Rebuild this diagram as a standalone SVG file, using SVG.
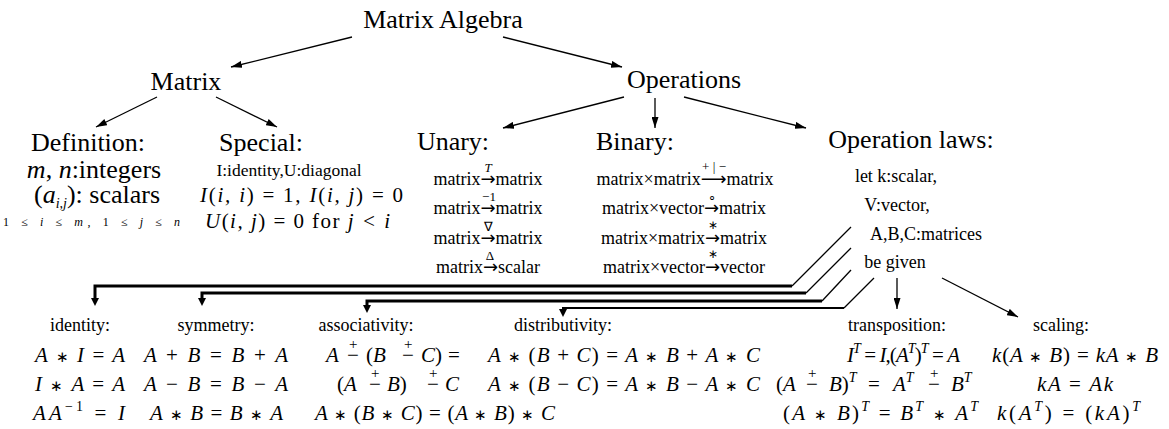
<svg xmlns="http://www.w3.org/2000/svg" width="1169" height="429" viewBox="0 0 1169 429">
<style>
text{font-family:"Liberation Serif",serif;fill:#000}
.h{font-size:26px}
.s{font-size:18px}
.m{font-size:21px;font-style:italic}
.u{font-style:normal}
.as{font-style:normal;font-size:15px}
.ar{font-family:"DejaVu Sans",sans-serif;font-style:normal}
.lb{font-size:13px}
.sp{font-size:14px}
.pl{font-size:15px;font-style:normal}
.c{text-anchor:middle}
.ln{stroke:#000;stroke-width:1.3;fill:none}
.tk{stroke:#000;stroke-width:3;fill:none}
</style>
<defs>
<marker id="a" viewBox="0 0 11 7" refX="11" refY="3.5" markerWidth="11" markerHeight="7" orient="auto" markerUnits="userSpaceOnUse"><path d="M0,0 L11,3.5 L0,7 Z"/></marker>
<marker id="ak" viewBox="0 0 8 8" refX="0" refY="4" markerWidth="8" markerHeight="8" orient="auto" markerUnits="userSpaceOnUse"><path d="M0,0 L8,4 L0,8 Z"/></marker>
</defs>

<g id="connectors">
<line class="ln" x1="352" y1="37" x2="231" y2="67" marker-end="url(#a)"/>
<line class="ln" x1="503" y1="37" x2="622" y2="67" marker-end="url(#a)"/>
<line class="ln" x1="157" y1="97" x2="96" y2="127" marker-end="url(#a)"/>
<line class="ln" x1="216" y1="97" x2="277" y2="127" marker-end="url(#a)"/>
<line class="ln" x1="624" y1="97" x2="503" y2="128" marker-end="url(#a)"/>
<line class="ln" x1="655" y1="98" x2="655" y2="128" marker-end="url(#a)"/>
<line class="ln" x1="684" y1="97" x2="806" y2="128" marker-end="url(#a)"/>
<line class="ln" x1="897" y1="278" x2="897" y2="309" marker-end="url(#a)"/>
<line class="ln" x1="942" y1="278" x2="1018" y2="317" marker-end="url(#a)"/>
<line class="ln" x1="792" y1="286" x2="851" y2="227"/>
<line class="ln" x1="806" y1="293" x2="851" y2="248"/>
<line class="ln" x1="822" y1="301" x2="851" y2="270"/>
<line class="ln" x1="844" y1="308" x2="874" y2="278"/>
<path class="tk" d="M792,286 H95 V298" marker-end="url(#ak)"/>
<path class="tk" d="M806,293 H202 V298" marker-end="url(#ak)"/>
<path class="tk" d="M822,301 H367 V305" marker-end="url(#ak)"/>
<path class="tk" style="stroke-width:2" d="M844,308 H563 V309" marker-end="url(#ak)"/>
</g>

<g id="n-root"><text class="h c" x="443" y="28">Matrix Algebra</text></g>
<g id="n-matrix"><text class="h c" x="186" y="90">Matrix</text></g>
<g id="n-operations"><text class="h c" x="684" y="88">Operations</text></g>

<g id="n-definition">
<text class="h c" x="88" y="151">Definition:</text>
<text class="h c" x="94" y="178"><tspan font-style="italic">m</tspan>, <tspan font-style="italic">n</tspan>:integers</text>
<text class="h c" x="97" y="203">(<tspan font-style="italic">a</tspan><tspan class="sp" font-style="italic" dy="5">i,j</tspan><tspan dy="-5">): scalars</tspan></text>
<text x="3" y="226" font-size="12" font-style="italic" textLength="177" lengthAdjust="spacing"><tspan class="u">1 ≤ </tspan>i<tspan class="u"> ≤ </tspan>m<tspan class="u">, 1 ≤ </tspan>j<tspan class="u"> ≤ </tspan>n</text>
</g>

<g id="n-special">
<text class="h c" x="261" y="151">Special:</text>
<text class="c" x="289" y="176" font-size="17.5">I:identity,U:diagonal</text>
<text class="m" x="200" y="202" textLength="203" lengthAdjust="spacing">I<tspan class="u">(</tspan>i, i<tspan class="u">) = 1, </tspan>I<tspan class="u">(</tspan>i, j<tspan class="u">) = 0</tspan></text>
<text class="m" x="205" y="228" textLength="185" lengthAdjust="spacing">U<tspan class="u">(</tspan>i, j<tspan class="u">) = 0 for </tspan>j &lt; i</text>
</g>

<g id="n-unary">
<text class="h c" x="453" y="150">Unary:</text>
<text class="s c" x="488" y="185">matrix<tspan class="ar">→</tspan>matrix</text>
<text class="lb c" x="488" y="172" font-style="italic">T</text>
<text class="s c" x="488" y="214">matrix<tspan class="ar">→</tspan>matrix</text>
<text class="lb c" x="489" y="201">−1</text>
<text class="s c" x="488" y="244">matrix<tspan class="ar">→</tspan>matrix</text>
<text class="lb c" x="488" y="231">∇</text>
<text class="s c" x="488" y="273">matrix<tspan class="ar">→</tspan>scalar</text>
<text class="lb c" x="490" y="260">Δ</text>
</g>

<g id="n-binary">
<text class="h c" x="635" y="150">Binary:</text>
<text class="s c" x="685" y="185">matrix×matrix<tspan class="ar">⟶</tspan>matrix</text>
<text class="lb c" x="714" y="171" textLength="24" lengthAdjust="spacing">+|−</text>
<text class="s c" x="684" y="214">matrix×vector<tspan class="ar">→</tspan>matrix</text>
<text class="lb c" x="712" y="201">∘</text>
<text class="s c" x="684" y="244">matrix×matrix<tspan class="ar">→</tspan>matrix</text>
<text class="c" x="713" y="229" font-size="12">∗</text>
<text class="s c" x="684" y="273">matrix×vector<tspan class="ar">→</tspan>vector</text>
<text class="c" x="713" y="258" font-size="12">∗</text>
</g>

<g id="n-laws">
<text class="h c" x="911" y="148">Operation laws:</text>
<text class="s c" x="896" y="182">let k:scalar,</text>
<text class="s c" x="897" y="211">V:vector,</text>
<text class="s c" x="926" y="240">A,B,C:matrices</text>
<text class="s c" x="895" y="268">be given</text>
</g>

<g id="n-identity">
<text class="s c" x="80" y="331">identity:</text>
<text class="m" x="35" y="362" textLength="90" lengthAdjust="spacing">A <tspan class="as">∗</tspan> I <tspan class="u">=</tspan> A</text>
<text class="m" x="35" y="391" textLength="90" lengthAdjust="spacing">I <tspan class="as">∗</tspan> A <tspan class="u">=</tspan> A</text>
<text class="m" x="33" y="420" textLength="92" lengthAdjust="spacing">AA<tspan class="sp u" dy="-9">−1</tspan><tspan class="u" dy="9"> = </tspan>I</text>
</g>

<g id="n-symmetry">
<text class="s c" x="216" y="331">symmetry:</text>
<text class="m" x="144" y="362" textLength="144" lengthAdjust="spacing">A <tspan class="u">+</tspan> B <tspan class="u">=</tspan> B <tspan class="u">+</tspan> A</text>
<text class="m" x="144" y="391" textLength="144" lengthAdjust="spacing">A <tspan class="u">−</tspan> B <tspan class="u">=</tspan> B <tspan class="u">−</tspan> A</text>
<text class="m" x="150" y="420" textLength="133" lengthAdjust="spacing">A <tspan class="as">∗</tspan> B <tspan class="u">=</tspan> B <tspan class="as">∗</tspan> A</text>
</g>

<g id="n-associativity">
<text class="s c" x="366" y="331">associativity:</text>
<text class="m" y="362"><tspan x="326">A</tspan><tspan x="347" class="u">−</tspan><tspan x="349" dy="-13" class="pl">+</tspan><tspan x="366" dy="13" class="u">(</tspan><tspan>B</tspan><tspan x="402" class="u">−</tspan><tspan x="404" dy="-13" class="pl">+</tspan><tspan x="421" dy="13">C</tspan><tspan class="u">)</tspan><tspan x="448" class="u">=</tspan></text>
<text class="m" y="391"><tspan x="337" class="u">(</tspan><tspan>A</tspan><tspan x="369" class="u">−</tspan><tspan x="371" dy="-13" class="pl">+</tspan><tspan x="387" dy="13">B</tspan><tspan class="u">)</tspan><tspan x="427" class="u">−</tspan><tspan x="429" dy="-13" class="pl">+</tspan><tspan x="445" dy="13">C</tspan></text>
<text class="m" x="315" y="420" textLength="240" lengthAdjust="spacing">A <tspan class="as">∗</tspan><tspan class="u"> (</tspan>B <tspan class="as">∗</tspan> C<tspan class="u">) = (</tspan>A <tspan class="as">∗</tspan> B<tspan class="u">) </tspan><tspan class="as">∗</tspan> C</text>
</g>

<g id="n-distributivity">
<text class="s c" x="563" y="331">distributivity:</text>
<text class="m" x="488" y="362" textLength="272" lengthAdjust="spacing">A <tspan class="as">∗</tspan><tspan class="u"> (</tspan>B <tspan class="u">+</tspan> C<tspan class="u">) =</tspan> A <tspan class="as">∗</tspan> B <tspan class="u">+</tspan> A <tspan class="as">∗</tspan> C</text>
<text class="m" x="488" y="391" textLength="272" lengthAdjust="spacing">A <tspan class="as">∗</tspan><tspan class="u"> (</tspan>B <tspan class="u">−</tspan> C<tspan class="u">) =</tspan> A <tspan class="as">∗</tspan> B <tspan class="u">−</tspan> A <tspan class="as">∗</tspan> C</text>
</g>

<g id="n-transposition">
<text class="s c" x="897" y="331">transposition:</text>
<text class="m" x="847" y="362" textLength="113" lengthAdjust="spacing">I<tspan class="sp" dy="-9">T</tspan><tspan class="u" dy="9"> = </tspan>I<tspan class="u">,(</tspan>A<tspan class="sp" dy="-9">T</tspan><tspan class="u" dy="9">)</tspan><tspan class="sp" dy="-9">T</tspan><tspan class="u" dy="9"> = </tspan>A</text>
<text class="m" y="391"><tspan x="776" class="u">(</tspan><tspan>A</tspan><tspan x="806" class="u">−</tspan><tspan x="808" dy="-13" class="pl">+</tspan><tspan x="829" dy="13">B</tspan><tspan class="u">)</tspan><tspan class="sp" dy="-9">T</tspan><tspan x="868" dy="9" class="u">=</tspan><tspan x="893">A</tspan><tspan class="sp" dy="-9">T</tspan><tspan x="928" dy="9" class="u">−</tspan><tspan x="930" dy="-13" class="pl">+</tspan><tspan x="951" dy="13">B</tspan><tspan class="sp" dy="-9">T</tspan></text>
<text class="m" x="783" y="420" textLength="195" lengthAdjust="spacing"><tspan class="u">(</tspan>A <tspan class="as">∗</tspan> B<tspan class="u">)</tspan><tspan class="sp" dy="-9">T</tspan><tspan class="u" dy="9"> = </tspan>B<tspan class="sp" dy="-9">T</tspan><tspan dy="9"> </tspan><tspan class="as">∗</tspan> A<tspan class="sp" dy="-9">T</tspan></text>
</g>

<g id="n-scaling">
<text class="s c" x="1061" y="331">scaling:</text>
<text class="m" x="992" y="362" textLength="166" lengthAdjust="spacing">k<tspan class="u">(</tspan>A <tspan class="as">∗</tspan> B<tspan class="u">) =</tspan> kA <tspan class="as">∗</tspan> B</text>
<text class="m" x="1037" y="391" textLength="76" lengthAdjust="spacing">kA <tspan class="u">=</tspan> Ak</text>
<text class="m" x="997" y="420" textLength="143" lengthAdjust="spacing">k<tspan class="u">(</tspan>A<tspan class="sp" dy="-9">T</tspan><tspan class="u" dy="9">) = (</tspan>kA<tspan class="u">)</tspan><tspan class="sp" dy="-9">T</tspan></text>
</g>
</svg>
